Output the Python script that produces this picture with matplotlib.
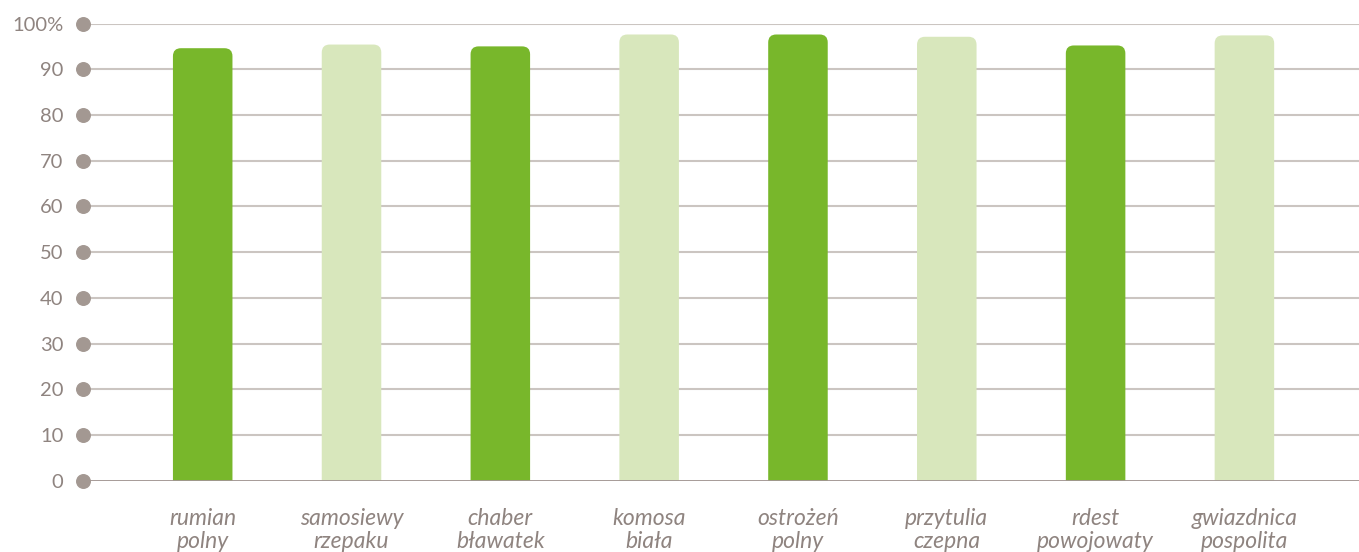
import matplotlib
matplotlib.use("Agg")
import matplotlib.pyplot as plt
from matplotlib.path import Path
from matplotlib.patches import PathPatch

categories = ["rumian\npolny", "samosiewy\nrzepaku", "chaber\nbławatek", "komosa\nbiała",
              "ostrożeń\npolny", "przytulia\nczepna", "rdest\npowojowaty", "gwiazdnica\npospolita"]
values = [94.6, 95.4, 95.0, 97.6, 97.6, 97.1, 95.2, 97.4]
yticks = [0, 10, 20, 30, 40, 50, 60, 70, 80, 90, 100]
ytick_labels = ["0", "10", "20", "30", "40", "50", "60", "70", "80", "90", "100%"]

dark = "#78b72b"
light = "#d8e7bc"
colors = [dark if i % 2 == 0 else light for i in range(len(categories))]
grid_c = "#cbc5c1"
axis_c = "#9e928e"
dot_c = "#a39892"
text_c = "#8f8480"

plt.rcParams['font.family'] = ['Lato', 'DejaVu Sans']

fig = plt.figure(figsize=(13.59, 5.52), dpi=100)
ax = fig.add_axes([0.061, 0.1292, 0.939, 0.8282])
xs = list(range(len(categories)))
ax.set_xlim(-0.805, 7.77)
ax.set_ylim(0, 100)

bars = ax.bar(xs, values, width=0.40, color=colors, zorder=3)

# round the top corners
rpx = 8.0
ax_w_px = 0.939 * 1359
ax_h_px = 0.8282 * 552
rx = rpx * (7.77 + 0.805) / ax_w_px
ry = rpx * 100 / ax_h_px
for b in bars:
    x0, w, h = b.get_x(), b.get_width(), b.get_height()
    x1 = x0 + w
    verts = [(x0, 0), (x0, h - ry), (x0, h), (x0 + rx, h), (x1 - rx, h), (x1, h), (x1, h - ry), (x1, 0), (x0, 0)]
    codes = [Path.MOVETO, Path.LINETO, Path.CURVE3, Path.CURVE3, Path.LINETO, Path.CURVE3, Path.CURVE3, Path.LINETO, Path.CLOSEPOLY]
    pp = PathPatch(Path(verts, codes), facecolor=b.get_facecolor(), edgecolor="none", zorder=3)
    b.set_visible(False)
    ax.add_patch(pp)

for t in yticks[1:]:
    ax.axhline(t, color=grid_c, lw=1.5, zorder=1)
ax.axhline(0, color=axis_c, lw=2, zorder=4)

ax.scatter([-0.805] * len(yticks), yticks, s=95, color=dot_c, zorder=5, clip_on=False)

for s in ax.spines.values():
    s.set_visible(False)

ax.set_yticks(yticks)
ax.set_yticklabels(ytick_labels, fontsize=14.5, color=text_c)
ax.tick_params(axis='y', length=0, pad=14)
ax.set_xticks(xs)
ax.set_xticklabels(categories, fontsize=16.5, color=text_c, style='italic', linespacing=1.12)
ax.tick_params(axis='x', length=0, pad=20)

fig.savefig("out.png", dpi=100)
